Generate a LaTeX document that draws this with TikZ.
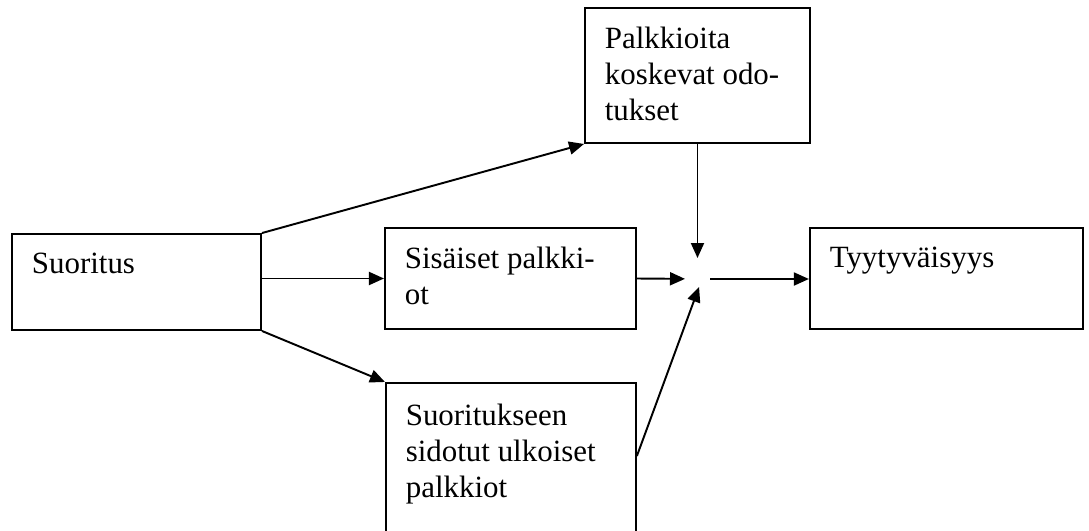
\documentclass[tikz,border=0pt]{standalone}
\usepackage{fontspec}
\setmainfont{Liberation Serif}
\usetikzlibrary{positioning,arrows.meta}

\begin{document}
\begin{tikzpicture}[
		box/.style={draw, line width=1.1pt, inner sep=0pt},
		txt/.style={anchor=north west, inner sep=0pt, align=left, xshift=0.41cm, yshift=-0.39cm,
			font={\fontsize{17.6pt}{20.6pt}\selectfont}},
		arrow/.style={-{Triangle[length=0.3cm, width=0.26cm]}, line width=1.1pt}
		]
		
		\clip (0,0) rectangle (21.78,-10.62);
		
		\node[box, minimum width=4.98cm, minimum height=1.92cm, label={[txt]north west:Suoritus}] (suoritus) at (2.73,-5.64) {};
		\node[box, minimum width=5.02cm, minimum height=2.02cm, right=2.44cm of suoritus, yshift=0.07cm,
			label={[txt]north west:Sisäiset palkki-\\ot}] (sisaiset) {};
		\node[box, minimum width=5.46cm, minimum height=2.02cm, right=3.44cm of sisaiset,
			label={[txt]north west:Tyytyväisyys}] (tyytyvaisyys) {};
		
		\node[box, minimum width=4.5cm, minimum height=2.7cm, label={[txt]north west:Palkkioita\\koskevat odo-\\tukset}] (odotukset) at (13.95,-1.51) {};
		\node[box, minimum width=5.0cm, minimum height=3.2cm, below right=1.04cm and 0.02cm of sisaiset.south west,
			label={[txt, yshift=-0.04cm]north west:Suoritukseen\\sidotut ulkoiset\\palkkiot}] (ulkoiset) {};
		
		% ---- where the three arrows meet ----
		\coordinate (meet) at (14.04,-5.58);
		
		\draw[arrow] (suoritus.north east) -- (odotukset.south west);
		\draw[arrow] (suoritus.east |- sisaiset.west) -- (sisaiset.west);
		\draw[arrow] (suoritus.south east) -- (ulkoiset.north west);
		
		\draw[arrow, shorten >=0.42cm] (odotukset.south) -- (odotukset.south |- meet);
		\draw[arrow, shorten >=0.34cm] (sisaiset.east) -- (meet);
		\draw[arrow, shorten >=0.17cm] ([yshift=-1.48cm]ulkoiset.north east) -- (meet);
		\draw[arrow, shorten <=0.16cm] (meet) -- (meet -| tyytyvaisyys.west);
		
	\end{tikzpicture}
\end{document}
